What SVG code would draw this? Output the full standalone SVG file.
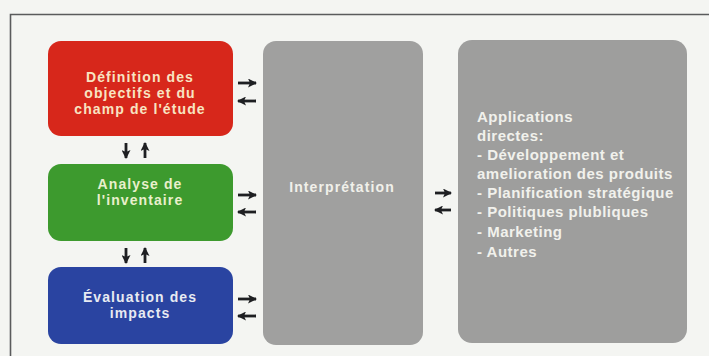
<svg xmlns="http://www.w3.org/2000/svg" width="709" height="356" viewBox="0 0 709 356">
  <defs>
    <marker id="head" viewBox="0 0 9 9" refX="8" refY="4.5" markerWidth="9" markerHeight="9" markerUnits="userSpaceOnUse" orient="auto">
      <path d="M0,0 L9,4.5 L0,9 L2,4.5 Z" fill="#1e1f22"/>
    </marker>
  </defs>
  <style>
    .lbl { font-family: "Liberation Sans", Arial, sans-serif; font-weight: 700; font-size: 14px; letter-spacing: 1.1px; text-anchor: middle; }
    .app { font-family: "Liberation Sans", Arial, sans-serif; font-weight: 700; font-size: 15px; letter-spacing: 0.5px; fill: #f1f1ec; }
    .conn line { stroke: #1e1f22; stroke-width: 2.8; marker-end: url(#head); }
  </style>

  <!-- page background and frame -->
  <rect x="0" y="0" width="709" height="356" fill="#f4f5f2"/>
  <path d="M10.5,356 V14.5 H709" fill="none" stroke="#5a5b5c" stroke-width="1.6"/>

  <g id="definition">
    <rect x="48" y="41" width="185" height="95" rx="13" fill="#d7271b"/>
    <text class="lbl" fill="#f8e4c2"><tspan x="140" y="82">Définition des</tspan><tspan x="140" y="98">objectifs et  du</tspan><tspan x="140" y="114">champ de l'étude</tspan></text>
  </g>

  <g id="inventaire">
    <rect x="48" y="164" width="185" height="77" rx="13" fill="#3d9a2e"/>
    <text class="lbl" fill="#e9f0cc"><tspan x="140" y="189">Analyse de</tspan><tspan x="140" y="205">l'inventaire</tspan></text>
  </g>

  <g id="impacts">
    <rect x="48" y="267" width="185" height="77" rx="13" fill="#2a44a1"/>
    <text class="lbl" fill="#e8ebf2"><tspan x="140" y="302">Évaluation des</tspan><tspan x="140" y="318">impacts</tspan></text>
  </g>

  <g id="interpretation">
    <rect x="263" y="41" width="160" height="304" rx="13" fill="#a0a09f"/>
    <text class="lbl" fill="#f1f0ea" x="342" y="192">Interprétation</text>
  </g>

  <g id="applications">
    <rect x="458" y="40" width="229" height="303" rx="14" fill="#9e9e9d"/>
    <text class="app">
      <tspan x="477" y="122">Applications</tspan>
      <tspan x="477" y="141">directes:</tspan>
      <tspan x="477" y="160">- Développement et</tspan>
      <tspan x="477" y="179">amelioration des produits</tspan>
      <tspan x="477" y="198">- Planification stratégique</tspan>
      <tspan x="477" y="217">- Politiques plubliques</tspan>
      <tspan x="477" y="237">- Marketing</tspan>
      <tspan x="477" y="257">- Autres</tspan>
    </text>
  </g>

  <g id="connectors" class="conn">
    <!-- stages to interpretation -->
    <line x1="238" y1="83" x2="256" y2="83"/>
    <line x1="256" y1="101" x2="238" y2="101"/>
    <line x1="238" y1="195" x2="256" y2="195"/>
    <line x1="256" y1="212" x2="238" y2="212"/>
    <line x1="238" y1="299" x2="256" y2="299"/>
    <line x1="256" y1="316" x2="238" y2="316"/>
    <!-- between stages -->
    <line x1="126" y1="143" x2="126" y2="158"/>
    <line x1="145" y1="158" x2="145" y2="143"/>
    <line x1="126" y1="248" x2="126" y2="263"/>
    <line x1="145" y1="263" x2="145" y2="248"/>
    <!-- interpretation to applications -->
    <line x1="435" y1="193" x2="451" y2="193"/>
    <line x1="451" y1="210" x2="435" y2="210"/>
  </g>
</svg>
